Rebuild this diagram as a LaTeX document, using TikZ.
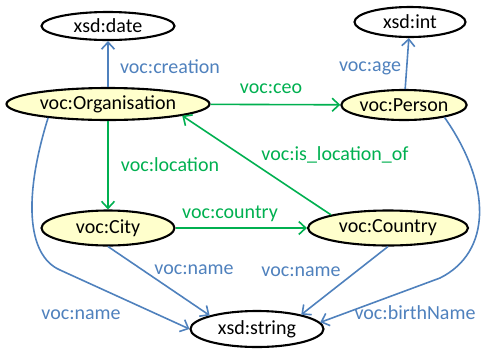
\documentclass[tikz,border=0pt]{standalone}
\usepackage{fontspec}
\setmainfont{Carlito}
\usepackage{tikz}
\usetikzlibrary{shapes.geometric,arrows.meta,positioning}
\definecolor{propblue}{RGB}{79,129,189}
\definecolor{propgreen}{RGB}{0,176,80}
\definecolor{classfill}{RGB}{255,255,204}
\tikzset{
every node/.style={font=\fontsize{20}{24}\selectfont}, % Calibri-like text everywhere
classnode/.style={ellipse, draw, line width=2.1pt, fill=classfill, inner sep=0pt},
litnode/.style={ellipse, draw, line width=2.1pt, fill=white, inner sep=0pt},
}
\tikzset{
    objprop/.style={draw=propgreen, line width=1.6pt, -{Straight Barb[length=7pt,width=13pt]}},
    dataprop/.style={draw=propblue, line width=1.6pt, -{Straight Barb[length=7pt,width=13pt]}},
    greenlabel/.style={text=propgreen, inner sep=1pt},
    bluelabel/.style={text=propblue, inner sep=1pt}
}

\begin{document}
\begin{tikzpicture}[x=1pt,y=1pt,yscale=-1,xscale=1]
		%set diagram left start at 0, and has height of 349
		\path[use as bounding box] (0,0) rectangle (482,349);
		
		% Literal Nodes
		\node [litnode, minimum width=133, minimum height=28] (date) at (108,26) {xsd:date};
		\node [litnode, minimum width=111, minimum height=30] (int) at (410,22) {xsd:int};
		\node [litnode, minimum width=133, minimum height=36] (str) at (257,329) {xsd:string};
		
		% Class Nodes
		\node [classnode, minimum width=203, minimum height=32] (org) at (108,104) {voc:Organisation};
		\node [classnode, minimum width=121, minimum height=30] (per) at (404,105) {voc:Person};
		\node [classnode, minimum width=133, minimum height=35] (city) at (108,228) {voc:City};
		\node [classnode, minimum width=160, minimum height=35] (ctry) at (388,228) {voc:Country};
		
		% Object Properties
		\draw [objprop] (org) -- (per);
		\draw [objprop] (org) -- (city);
		\draw [objprop] (city) -- (ctry);
		\draw [objprop] (ctry.167) -- (org.-9);
		
		% Datatype Properties
		\draw [dataprop] (org) -- (date);
		\draw [dataprop] (per) -- (int);
		\draw [dataprop] (city.south) -- (str.164);
		\draw [dataprop] (ctry.south) -- (str.18);
		\draw [dataprop] (org.193) .. controls (24,195) and (26,255) .. (60,270) -- (str.west);
		\draw [dataprop] (per.-17) .. controls (492,185) and (492,252) .. (440,278) -- (str.6);
		
		% Text Nodes
		\node [bluelabel] (creationlbl) at (170,67) {voc:creation};
		\node [greenlabel] (ceolbl) at (271,89) {voc:ceo};
		\node [bluelabel] (agelbl) at (370,68) {voc:age};
		\node [greenlabel] (locationlbl) at (170,165) {voc:location};
		\node [greenlabel] (islocoflbl) at (335,155) {voc:is\_location\_of};
		\node [greenlabel] (countrylbl) at (230,214) {voc:country};
		\node [bluelabel] (citynamelbl) at (194,270) {voc:name};
		\node [bluelabel] (ctrynamelbl) at (301,272) {voc:name};
		\node [bluelabel] (orgnamelbl) at (81,315) {voc:name};
		\node [bluelabel] (birthlbl) at (415,313) {voc:birthName};
		
		\end{tikzpicture}
\end{document}
